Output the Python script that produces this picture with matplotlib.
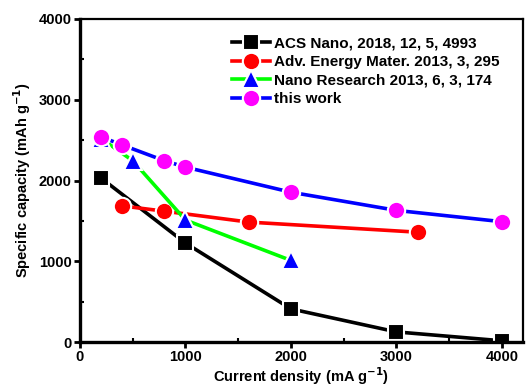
import matplotlib
matplotlib.use("Agg")
import matplotlib.pyplot as plt
from matplotlib.ticker import MultipleLocator

plt.rcParams['font.family'] = ['Liberation Sans', 'DejaVu Sans']
plt.rcParams['font.weight'] = 'bold'
plt.rcParams['mathtext.default'] = 'bf'

# Data
acs_x = [200, 1000, 2000, 3000, 4000]
acs_y = [2030, 1225, 410, 125, 15]
aem_x = [400, 800, 1600, 3200]
aem_y = [1685, 1620, 1485, 1360]
nr_x = [200, 500, 1000, 2000]
nr_y = [2520, 2245, 1510, 1010]
tw_x = [200, 400, 800, 1000, 2000, 3000, 4000]
tw_y = [2540, 2440, 2245, 2165, 1855, 1630, 1490]

labels = ["ACS Nano, 2018, 12, 5, 4993",
          "Adv. Energy Mater. 2013, 3, 295",
          "Nano Research 2013, 6, 3, 174",
          "this work"]

fig = plt.figure(figsize=(5.26, 3.89), dpi=100)
ax = fig.add_axes([80/526, 1-342/389, (523-80)/526, (342-19)/389])

lw = 2.6
ax.plot(acs_x, acs_y, '-s', color='black', lw=lw, ms=11, mfc='black',
        mec='white', mew=1.5, label=labels[0])
ax.plot(aem_x, aem_y, '-o', color='red', lw=lw, ms=12.5, mfc='red',
        mec='white', mew=1.5, label=labels[1])
ax.plot(nr_x, nr_y, '-^', color='#00ff00', lw=lw, ms=12.5, mfc='blue',
        mec='white', mew=1.5, label=labels[2])
ax.plot(tw_x, tw_y, '-o', color='blue', lw=lw, ms=12.5, mfc='#ff00ff',
        mec='white', mew=1.5, label=labels[3])

ax.set_xlim(0, 4200)
ax.set_ylim(0, 4000)
ax.xaxis.set_major_locator(MultipleLocator(1000))
ax.xaxis.set_minor_locator(MultipleLocator(500))
ax.yaxis.set_major_locator(MultipleLocator(1000))
ax.yaxis.set_minor_locator(MultipleLocator(500))

for s in ['left', 'bottom']:
    ax.spines[s].set_linewidth(2.4)
for s in ['top', 'right']:
    ax.spines[s].set_linewidth(1.6)

ax.tick_params(which='major', direction='out', length=4, width=2,
               labelsize=10.5, pad=2)
ax.tick_params(which='minor', direction='in', length=3, width=1.5)

ax.set_xlabel("Current density (mA g$^{-1}$)", fontsize=10.5,
              fontweight='bold', labelpad=1)
ax.set_ylabel("Specific capacity (mAh g$^{-1}$)", fontsize=10.5,
              fontweight='bold', labelpad=4)

leg = ax.legend(loc='upper left', bbox_to_anchor=(0.33, 0.965), frameon=False,
                fontsize=11, handlelength=2.5, handletextpad=0.25,
                labelspacing=0.3, borderaxespad=0)
for t in leg.get_texts():
    t.set_fontweight('bold')

fig.savefig('out.png', dpi=100)
